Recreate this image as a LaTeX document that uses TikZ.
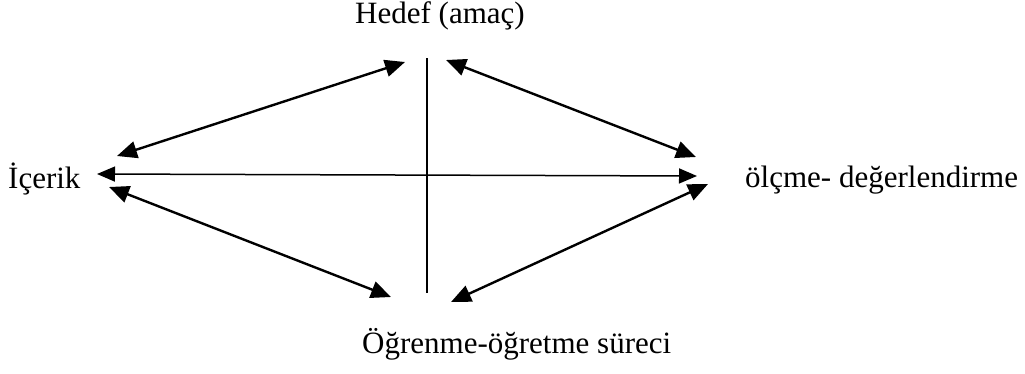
\documentclass[tikz,border=0pt]{standalone}
\usepackage{fontspec}
\setmainfont{Liberation Serif}
\usetikzlibrary{arrows.meta}
\begin{document}
\begin{tikzpicture}[x=1pt,y=-1pt,
  lbl/.style={font=\fontsize{31}{36}\selectfont, inner sep=0pt, anchor=base west},
  dbl/.style={line width=2.4pt, {Triangle[length=20pt,width=17pt]}-{Triangle[length=20pt,width=17pt]}},
  hline/.style={line width=1.5pt, {Triangle[length=18pt,width=15pt]}-{Triangle[length=18pt,width=15pt]}},
  vline/.style={line width=2pt}]
\useasboundingbox (0,0) rectangle (1025,373);
\node[lbl] (hedef) at (355,23) {Hedef (amaç)};
\node[lbl] (icerik) at (8,188) {İçerik};
\node[lbl] (olcme) at (745,187) {ölçme- değerlendirme};
\node[lbl] (ogrenme) at (362,353) {Öğrenme-öğretme süreci};
% coordinates
\coordinate (vt) at (427,58);
\coordinate (vb) at (427,293);
\coordinate (hl) at (97,174);
\coordinate (hr) at (697,176);
\coordinate (ulA) at (117,156);
\coordinate (ulB) at (405,62);
\coordinate (urA) at (446,60);
\coordinate (urB) at (696,157);
\coordinate (llA) at (109,187);
\coordinate (llB) at (391,297);
\coordinate (lrA) at (451,302);
\coordinate (lrB) at (708,184);
\draw[vline] (vt) -- (vb);
\draw[hline] (hl) -- (hr);
\draw[dbl] (ulA) -- (ulB);
\draw[dbl] (urA) -- (urB);
\draw[dbl] (llA) -- (llB);
\draw[dbl] (lrA) -- (lrB);
\end{tikzpicture}
\end{document}
